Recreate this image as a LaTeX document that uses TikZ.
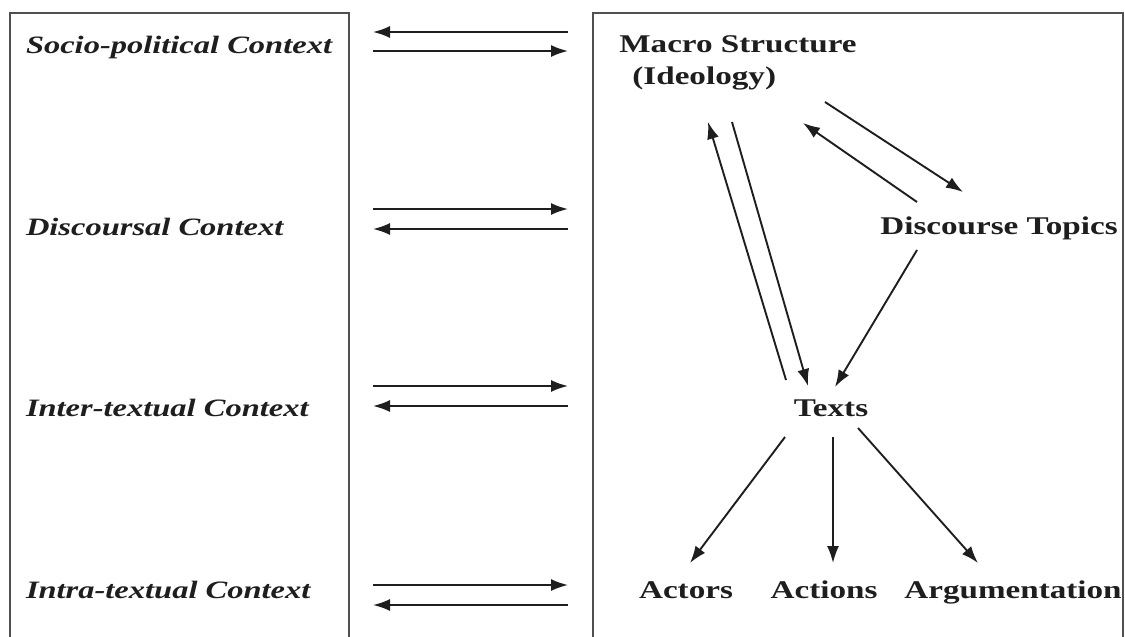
\documentclass[tikz,border=0pt]{standalone}
\usepackage{fontspec}
\setmainfont{Liberation Serif}[FakeStretch=1.3]
\usepackage{tikz}
\usetikzlibrary{arrows.meta,positioning,calc}
\definecolor{ink}{RGB}{30, 30, 30}
\definecolor{frame}{RGB}{80, 80, 80}

\begin{document}
\begin{tikzpicture}[x=1pt, y=-1pt,
    every node/.style={inner sep=0pt, outer sep=0pt, text=ink, font=\fontsize{25.5}{32}\selectfont\bfseries},
    ctx/.style={anchor=west, font=\fontsize{25}{32}\selectfont\bfseries\itshape},
    leaf/.style={text height=17pt, text depth=6pt},
    panel/.style={draw=frame, line width=1.6pt, anchor=north west, minimum width=#1, minimum height=640pt},
    arr/.style={draw=ink, line width=1.9pt, >={Latex[length=17pt,width=12pt]}}]
\useasboundingbox[fill=white] (0,0) rectangle (1125,637);

% the two boxes
\node[panel=339pt] (lbox) at (10,13) {};
\node[panel=530pt] (rbox) at (593,13) {};

% Left column
\node[ctx] (soc) at (26,47) {Socio-political Context};
\node[ctx] (dis) at (26,227) {Discoursal Context};
\node[ctx] (int) at (26,408) {Inter-textual Context};
\node[ctx] (intra) at (26,590) {Intra-textual Context};

% arrows between the boxes
\foreach \dy/\dir in {19/<-, 38/->, 196/->, 216/<-, 373/->, 393/<-, 572/->, 592/<-}
  \draw[arr, \dir] ($(lbox.north east)+(24,\dy)$) -- ($(rbox.north west)+(-25,\dy)$);

% Right column
\node[align=left] (mac) at (738,63) {Macro Structure\\\hspace*{13pt}(Ideology)};
\node (top) at (999,228) {Discourse Topics};
\node[leaf] (txt) at (831,411) {Texts};
\node[leaf] (act) at (686,593) {Actors};
\node[leaf] (acn) at (824,593) {Actions};
\node[leaf] (arg) at (1013,593) {Argumentation};

\draw[arr, ->] ($(txt)+(-45,-31)$) -- ($(mac)+(-30,59)$);
\draw[arr, ->] ($(mac)+(-6,59)$) -- ($(txt)+(-23,-25)$);
\draw[arr, ->] ($(mac)+(87,39)$) -- ($(top)+(-36,-36)$);
\draw[arr, ->] ($(top)+(-82,-26)$) -- ($(mac)+(65,60)$);
\draw[arr, ->] ($(top)+(-82,22)$) -- ($(txt)+(4,-24)$);
\draw[arr, ->] ($(txt)+(-46,26)$) -- ($(act)+(4,-30)$);
\draw[arr, ->] ($(txt)+(2,26)$) -- ($(acn)+(9,-30)$);
\draw[arr, ->] ($(txt)+(27,17)$) -- ($(arg)+(-35,-30)$);
\end{tikzpicture}
\end{document}
